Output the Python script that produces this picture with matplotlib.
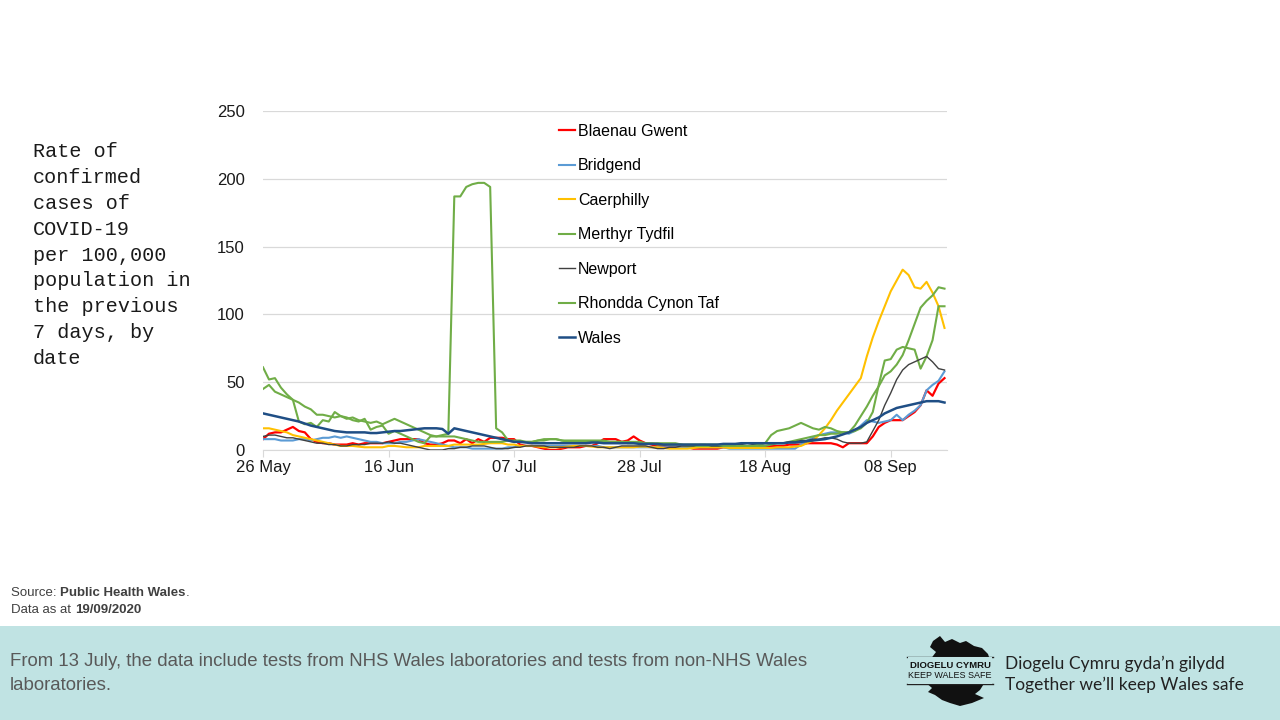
import matplotlib
matplotlib.use('Agg')
import matplotlib.pyplot as plt
import matplotlib.dates as mdates
from matplotlib.patches import Rectangle, Polygon
import pandas as pd

# 7-day rate per 100,000, daily from 26 May 2020
blaenau_gwent = [8, 12, 13, 13, 15, 17, 14, 13, 8, 6,
                 5, 5, 4, 4, 4, 5, 4, 5, 5, 5,
                 5, 6, 7, 8, 8, 8, 8, 5, 4, 4,
                 5, 7, 7, 5, 8, 5, 8, 6, 9, 9,
                 9, 8, 8, 4, 3, 3, 2, 1, 0, 0,
                 1, 2, 2, 2, 3, 3, 5, 8, 8, 8,
                 6, 7, 10, 7, 5, 4, 3, 3, 2, 2,
                 2, 2, 1, 1, 1, 1, 1, 2, 2, 2,
                 2, 2, 2, 2, 3, 3, 3, 3, 4, 4,
                 4, 5, 5, 5, 5, 5, 4, 2, 5, 5,
                 5, 5, 10, 17, 20, 22, 22, 22, 25, 28,
                 33, 44, 40, 49, 53]
bridgend = [8, 8, 8, 7, 7, 7, 8, 8, 7, 8,
            9, 9, 10, 9, 10, 9, 8, 7, 6, 6,
            5, 5, 5, 6, 6, 7, 8, 7, 6, 5,
            4, 3, 2, 2, 2, 1, 1, 1, 1, 1,
            1, 2, 2, 3, 3, 3, 3, 3, 3, 3,
            3, 3, 3, 3, 3, 3, 3, 2, 2, 2,
            2, 2, 2, 2, 2, 2, 2, 2, 2, 2,
            2, 2, 2, 2, 2, 2, 2, 2, 1, 1,
            1, 1, 1, 1, 1, 1, 1, 1, 1, 1,
            4, 7, 9, 11, 12, 13, 13, 13, 12, 14,
            18, 22, 21, 20, 21, 22, 26, 22, 26, 29,
            33, 44, 48, 51, 58]
caerphilly = [16, 16, 15, 14, 13, 11, 10, 9, 8, 7,
              6, 5, 4, 3, 3, 3, 2.5, 2, 2, 2,
              2, 3, 3, 2.5, 2, 2, 2, 3, 3, 3,
              3, 3, 4, 4, 4, 4, 4, 4.5, 5, 5,
              5, 4, 4, 3, 3, 3, 2.5, 2, 2, 2,
              2, 2.5, 3, 3, 3, 2.5, 2, 2, 2, 2,
              2, 2, 2, 2.5, 2.5, 2, 2, 1.5, 1, 1,
              1, 1, 1.5, 2, 2, 2, 2, 2, 1.5, 1.5,
              1.5, 1.5, 1.5, 1.5, 1.5, 1.5, 2, 2, 2, 2.5,
              3, 5, 7, 11, 16, 22, 29, 35, 41, 47,
              53, 69, 83, 95, 106, 117, 125, 133, 129, 120,
              119, 124, 116, 106, 90]
merthyr_tydfil = [61, 52, 53, 46, 41, 37, 21, 19, 20, 17,
                  22, 21, 28, 25, 24, 22, 21, 23, 15, 17,
                  18, 12, 14, 12, 10, 8, 6, 5, 10, 10,
                  11, 12, 187, 187, 194, 196, 197, 197, 194, 16,
                  13, 7, 6, 6, 6, 6, 7, 7, 8, 8,
                  7, 6, 6, 6, 6, 6, 6, 6, 6, 6,
                  6, 5, 5, 5, 5, 5, 4, 4, 4, 4,
                  4, 3, 3, 3, 3, 3, 3, 3, 3, 3,
                  3, 3, 3, 3, 3, 4, 5, 5, 6, 7,
                  8, 9, 10, 11, 11, 12, 12, 13, 13, 14,
                  16, 20, 28, 48, 66, 67, 74, 76, 75, 74,
                  60, 69, 81, 106, 106]
newport = [10, 11, 11, 10, 9, 9, 8, 7, 6, 5,
           5, 4, 4, 3, 3, 4, 4, 4, 5, 5,
           5, 6, 5, 5, 4, 3, 2, 1, 0, 0,
           0, 1, 1, 2, 2, 3, 3, 3, 2, 1,
           1, 1, 2, 2, 3, 3, 3, 3, 2, 2,
           2, 2, 2, 3, 3, 3, 2, 2, 1, 2,
           3, 3, 3, 3, 3, 2, 1, 1, 2, 2,
           3, 3, 3, 4, 4, 3, 3, 3, 4, 4,
           4, 5, 4, 4, 5, 5, 5, 5, 6, 6,
           7, 7, 8, 8, 9, 9, 8, 6, 5, 5,
           5, 6, 14, 22, 33, 42, 52, 59, 63, 65,
           67, 69, 65, 60, 59]
rhondda = [45, 48, 43, 41, 39, 37, 35, 32, 30, 26,
           26, 25, 24, 25, 23, 24, 22, 21, 20, 21,
           19, 21, 23, 21, 19, 17, 15, 13, 11, 10,
           10, 10, 10, 9, 8, 7, 6, 6, 6, 6,
           6, 7, 7, 7, 6, 6, 7, 8, 8, 8,
           7, 7, 7, 7, 7, 7, 7, 7, 6, 6,
           6, 6, 6, 6, 5, 5, 5, 5, 5, 5,
           4, 4, 4, 4, 4, 4, 4, 3, 3, 3,
           3, 3, 3, 4, 5, 11, 14, 15, 16, 18,
           20, 18, 16, 15, 17, 16, 14, 13, 13, 18,
           25, 32, 40, 47, 55, 58, 63, 70, 81, 93,
           105, 110, 114, 120, 119]
wales = [27, 26, 25, 24, 23, 22, 21, 19.5, 18, 17,
         16, 15, 14, 13.5, 13, 13, 13, 13, 12.5, 12.5,
         13, 13.5, 14, 14, 14.5, 15, 15.5, 16, 16, 16,
         15.5, 12, 16, 15, 14, 13, 12, 11, 10, 9,
         8, 7, 6, 6, 5.5, 5, 5, 5, 5, 5,
         5, 5, 5, 5, 5, 5.5, 5.5, 5, 5, 5,
         5, 5, 5, 4.5, 4.5, 4.5, 4.5, 4, 4, 4,
         4, 4, 4, 4, 4, 4, 4, 4.5, 4.5, 4.5,
         5, 5, 5, 5, 5, 5, 5, 5, 5.5, 5.5,
         6, 6.5, 7, 7.5, 8, 9, 10, 11.5, 13, 15,
         17, 20, 22, 24, 27, 29, 31, 32, 33, 34,
         35, 36, 36, 36, 35]

series_names = ['Blaenau Gwent', 'Bridgend', 'Caerphilly', 'Merthyr Tydfil',
                'Newport', 'Rhondda Cynon Taf', 'Wales']
series_values = [blaenau_gwent, bridgend, caerphilly, merthyr_tydfil,
                 newport, rhondda, wales]
colors = ['#FF0000', '#5B9BD5', '#FFC000', '#70AD47', '#404040', '#70AD47', '#1F4E85']
widths = [1.6, 1.5, 1.5, 1.5, 1.0, 1.5, 1.8]

dates = pd.date_range('2020-05-26', periods=len(wales), freq='D')
tick_dates = pd.date_range('2020-05-26', '2020-09-08', freq='21D')

plt.rcParams['font.family'] = ['Liberation Sans', 'DejaVu Sans']

fig = plt.figure(figsize=(12.8, 7.2), dpi=100)
ax = fig.add_axes([263/1280, 1 - 450/720, (947 - 263)/1280, (450 - 111)/720])

for name, vals, c, lw in zip(series_names, series_values, colors, widths):
    ax.plot(dates[:len(vals)], vals, color=c, lw=lw, label=name)

ax.set_ylim(0, 250)
ax.set_yticks([0, 50, 100, 150, 200, 250])
ax.set_xlim(dates[0], dates[-1] + pd.Timedelta(hours=10))
ax.set_xticks(tick_dates)
ax.xaxis.set_major_formatter(mdates.DateFormatter('%d %b'))
ax.grid(axis='y', color='#D9D9D9', lw=0.9)
ax.set_axisbelow(True)
for s in ['top', 'right', 'left']:
    ax.spines[s].set_visible(False)
ax.spines['bottom'].set_color('#D9D9D9')
ax.tick_params(axis='y', length=0, labelsize=12, labelcolor='#1a1a1a', pad=13)
ax.tick_params(axis='x', length=5, color='#D9D9D9', labelsize=12, labelcolor='#1a1a1a', pad=2)

ax.legend(loc='upper left', bbox_to_anchor=(559/1280, 1 - 124/720), bbox_transform=fig.transFigure,
          frameon=False, fontsize=11.5, handlelength=1.0, handletextpad=0.2, labelspacing=1.22,
          borderpad=0, borderaxespad=0)

fig.text(33/1280, 1 - 142/720,
         'Rate of\nconfirmed\ncases of\nCOVID-19\nper 100,000\npopulation in\nthe previous\n7 days, by\ndate',
         family='Liberation Mono', fontsize=14.5, va='top', ha='left', linespacing=1.46, color='#1a1a1a')

# source lines
r = fig.canvas.get_renderer()
def run_text(x, y, parts):
    for txt, bold in parts:
        t = fig.text(x / 1280, 1 - y / 720, txt, fontsize=9.5, va='center', ha='left',
                     color='#404040', weight='bold' if bold else 'normal')
        x += t.get_window_extent(renderer=r).width

run_text(11, 593, [('Source: ', False), ('Public Health Wales', True), ('.', False)])
run_text(11, 610, [('Data as at ', False), ('19/09/2020', True)])

# footer band
fig.patches.append(Rectangle((0, 0), 1, (720 - 626) / 720, transform=fig.transFigure,
                             facecolor='#C0E3E3', edgecolor='none', zorder=0))
fig.text(10/1280, 1 - 662/720,
         'From 13 July, the data include tests from NHS Wales laboratories and tests from non-NHS Wales',
         fontsize=13.4, color='#595959', va='center', ha='left')
fig.text(10/1280, 1 - 685/720, 'laboratories.', fontsize=13.4, color='#595959', va='center', ha='left')

# logo
def px(pts):
    return [(x / 1280, 1 - y / 720) for x, y in pts]

north = [(933, 641), (940, 636), (945, 642), (952, 639), (960, 643), (966, 641), (974, 646),
         (982, 648), (988, 654), (990, 660), (930, 660), (936, 652), (930, 647)]
south = [(925, 682), (985, 682), (980, 690), (975, 694), (984, 698), (972, 703), (960, 706),
         (950, 703), (942, 700), (935, 695), (928, 692), (932, 688)]
for poly in [north, south]:
    fig.patches.append(Polygon(px(poly), closed=True, transform=fig.transFigure,
                               facecolor='#111111', edgecolor='none', zorder=1))
fig.patches.append(Rectangle((908/1280, 1 - 684/720), 84/1280, 27/720, transform=fig.transFigure,
                             facecolor='#C0E3E3', edgecolor='none', zorder=2))
for yy in [657, 684]:
    fig.add_artist(plt.Line2D([907/1280, 993/1280], [1 - yy/720, 1 - yy/720], color='#222222',
                              lw=1.0, transform=fig.transFigure))
fig.text(950/1280, 1 - 665/720, 'DIOGELU CYMRU', fontsize=6.8, weight='bold', color='#111111',
         ha='center', va='center')
fig.text(950/1280, 1 - 676/720, 'KEEP WALES SAFE', fontsize=6.5, color='#111111',
         ha='center', va='center')
fig.text(1005/1280, 1 - 664/720, 'Diogelu Cymru gyda\u2019n gilydd', family='Lato', fontsize=12.5,
         color='#222222', va='center', ha='left')
fig.text(1005/1280, 1 - 685/720, 'Together we\u2019ll keep Wales safe', family='Lato', fontsize=12.5,
         color='#222222', va='center', ha='left')

fig.savefig('out.png', dpi=100, facecolor='white')
